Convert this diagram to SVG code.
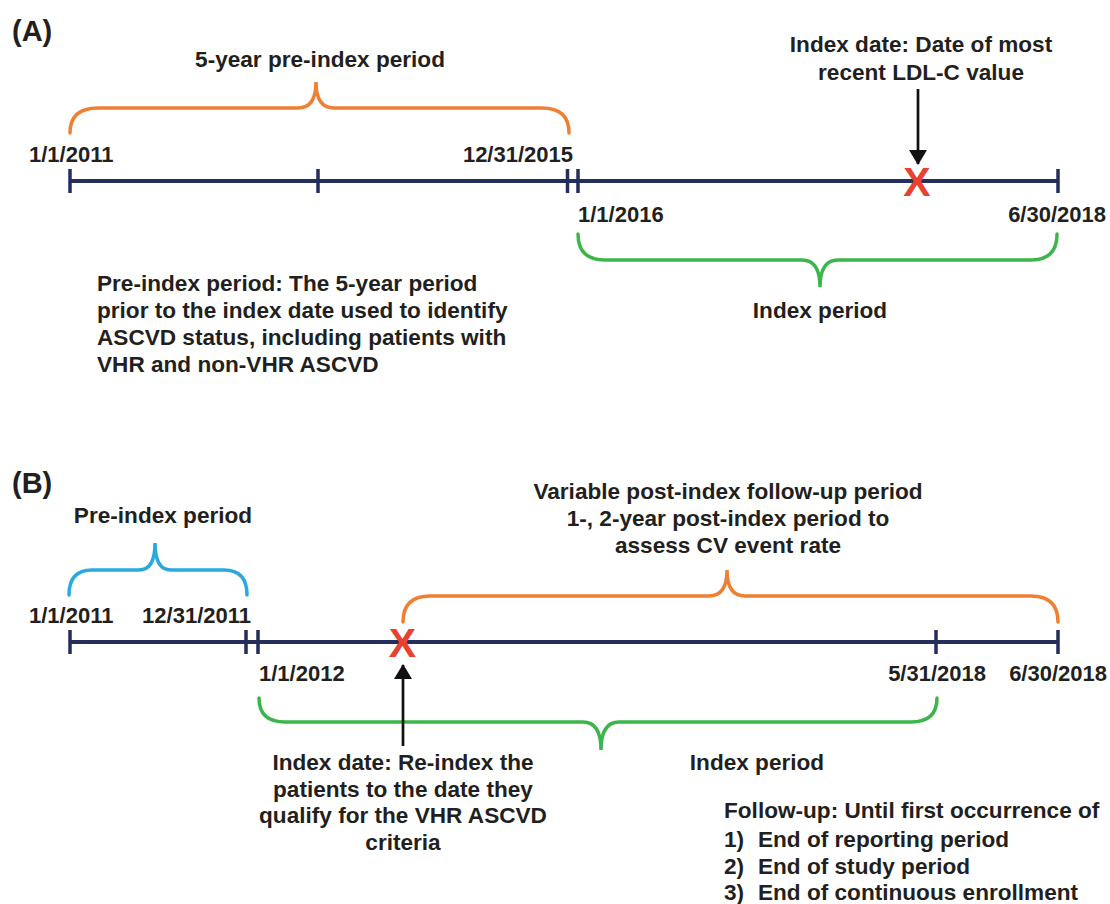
<svg xmlns="http://www.w3.org/2000/svg" width="1110" height="904" viewBox="0 0 1110 904">
<style>
text{font-family:"Liberation Sans",Arial,sans-serif;font-weight:bold;fill:#231f20;font-size:22.6px}
.lbl{font-size:29px}
.dt{font-size:22px}
.c{text-anchor:middle}
.e{text-anchor:end}
.axis{stroke:#252d5c;stroke-width:4;fill:none}
.tick{stroke:#252d5c;stroke-width:3.5}
.brace{fill:none;stroke-width:3.5;stroke-linecap:round}
.or{stroke:#ef7f32}.gr{stroke:#3cb64b}.bl{stroke:#2aa9e0}
.x{fill:#e8412f;font-size:41px;text-anchor:middle}
.arr{stroke:#111;stroke-width:2.7}
</style>
<defs>
<marker id="ah" viewBox="0 0 15 18" refX="14" refY="9" markerWidth="15" markerHeight="18" orient="auto" markerUnits="userSpaceOnUse"><path d="M0,0 L15,9 L0,18 z" fill="#111"/></marker>
</defs>

<g id="panelA">
<text class="lbl" x="12" y="41">(A)</text>
<g id="a-pre-brace">
<path class="brace or" d="M70,133 Q70,108 98,108 L298,108 Q316,108 316,82 Q316,108 334,108 L542,108 Q569,108 569,133"/>
<text class="c" x="320" y="67">5-year pre-index period</text>
</g>
<g id="a-axis">
<line class="axis" x1="70" y1="181" x2="1058" y2="181"/>
<line class="tick" x1="70" y1="169" x2="70" y2="193"/>
<line class="tick" x1="318" y1="169" x2="318" y2="193"/>
<line class="tick" x1="567.5" y1="169" x2="567.5" y2="193"/>
<line class="tick" x1="578" y1="169" x2="578" y2="193"/>
<line class="tick" x1="1058" y1="169" x2="1058" y2="193"/>
</g>
<g id="a-dates">
<text class="dt" x="29" y="162">1/1/2011</text>
<text class="dt e" x="573" y="162">12/31/2015</text>
<text class="dt" x="578" y="222">1/1/2016</text>
<text class="dt e" x="1106" y="222">6/30/2018</text>
</g>
<g id="a-index">
<text class="x" x="917" y="196">X</text>
<text class="c" x="921" y="52">Index date: Date of most</text>
<text class="c" x="921" y="80">recent LDL-C value</text>
</g>
<g id="a-index-brace">
<path class="brace gr" d="M578,234 Q578,260 605,260 L802,260 Q820,260 820,287 Q820,260 838,260 L1031,260 Q1057,260 1057,234"/>
<text class="c" x="820" y="318">Index period</text>
</g>
<g id="a-note">
<text x="97" y="291">Pre-index period: The 5-year period</text>
<text x="97" y="318">prior to the index date used to identify</text>
<text x="97" y="345">ASCVD status, including patients with</text>
<text x="97" y="372">VHR and non-VHR ASCVD</text>
</g>
</g>

<g id="panelB">
<text class="lbl" x="12" y="493">(B)</text>
<g id="b-pre-brace">
<path class="brace bl" d="M69,595 Q69,570 92,570 L139,570 Q155,570 155,543 Q155,570 171,570 L224,570 Q247,570 247,595"/>
<text class="c" x="163" y="523">Pre-index period</text>
</g>
<g id="b-axis">
<line class="axis" x1="70" y1="642" x2="1058" y2="642"/>
<line class="tick" x1="70" y1="630" x2="70" y2="654"/>
<line class="tick" x1="246" y1="630" x2="246" y2="654"/>
<line class="tick" x1="258" y1="630" x2="258" y2="654"/>
<line class="tick" x1="936" y1="630" x2="936" y2="654"/>
<line class="tick" x1="1058" y1="630" x2="1058" y2="654"/>
</g>
<g id="b-dates">
<text class="dt" x="29" y="623">1/1/2011</text>
<text class="dt e" x="251" y="623">12/31/2011</text>
<text class="dt" x="259" y="681">1/1/2012</text>
<text class="dt e" x="986" y="681">5/31/2018</text>
<text class="dt e" x="1107" y="681">6/30/2018</text>
</g>
<g id="b-post-brace">
<path class="brace or" d="M403,622 Q403,596 430,596 L709,596 Q727,596 727,570 Q727,596 745,596 L1031,596 Q1058,596 1058,622"/>
<text class="c" x="728" y="499">Variable post-index follow-up period</text>
<text class="c" x="728" y="526">1-, 2-year post-index period to</text>
<text class="c" x="728" y="553">assess CV event rate</text>
</g>
<g id="b-index">
<text class="x" x="402.5" y="657">X</text>
<text class="c" x="403" y="770">Index date: Re-index the</text>
<text class="c" x="403" y="797">patients to the date they</text>
<text class="c" x="403" y="823">qualify for the VHR ASCVD</text>
<text class="c" x="403" y="850">criteria</text>
</g>
<g id="b-index-brace">
<path class="brace gr" d="M259,698 Q259,722 285,722 L583,722 Q601,722 601,750 Q601,722 619,722 L911,722 Q937,722 937,698"/>
<text class="c" x="757" y="770">Index period</text>
</g>
<g id="b-followup">
<text x="724" y="818">Follow-up: Until first occurrence of</text>
<text x="724" y="847">1)</text><text x="758" y="847">End of reporting period</text>
<text x="724" y="874">2)</text><text x="758" y="874">End of study period</text>
<text x="724" y="900">3)</text><text x="758" y="900">End of continuous enrollment</text>
</g>
</g>

<g id="connectors">
<line class="arr" x1="918" y1="89" x2="918" y2="164" marker-end="url(#ah)"/>
<line class="arr" x1="403" y1="746" x2="403" y2="665" marker-end="url(#ah)"/>
</g>
</svg>
